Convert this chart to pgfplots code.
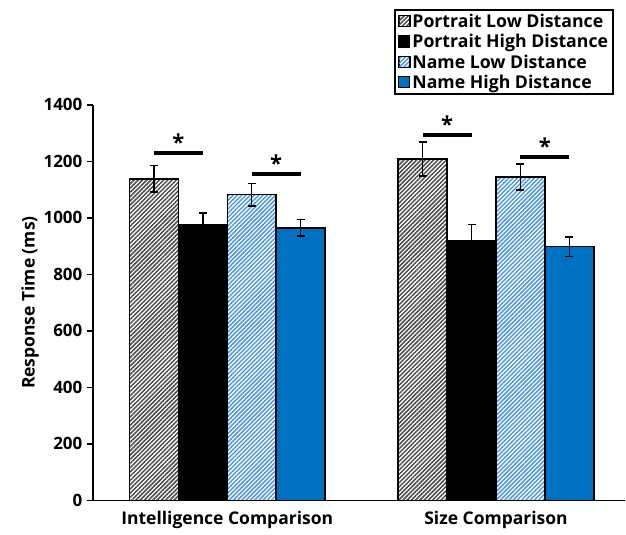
\documentclass[border=0pt]{standalone}
\usepackage{pgfplots}
\pgfplotsset{compat=1.18}
\usepackage{fontspec}
\setmainfont{Open Sans}
\usetikzlibrary{patterns.meta}
\definecolor{nblue}{RGB}{0,112,192}
\definecolor{lblue}{RGB}{80,150,220}
\definecolor{hgray}{RGB}{75,75,75}
\tikzset{
  pld/.style={draw=black, line width=1.5pt, preaction={fill=white}, pattern={Lines[angle=45,distance=3pt,line width=1.5pt]}, pattern color=hgray},
  phd/.style={draw=black, line width=1.5pt, fill=black},
  nld/.style={draw=black, line width=1.5pt, preaction={fill=white}, pattern={Lines[angle=45,distance=3pt,line width=1.5pt]}, pattern color=lblue},
  nhd/.style={draw=black, line width=1.5pt, fill=nblue},
}
\begin{document}
\begin{tikzpicture}
\begin{axis}[
  scale only axis,
  width=533pt, height=396pt,
  xmin=0, xmax=1.981,
  ymin=0, ymax=1400,
  ytick={0,200,...,1400},
  axis x line*=bottom,
  axis y line*=left,
  axis line style={line width=1.5pt, -},
  every tick/.style={line width=1.5pt, black},
  tick align=outside,
  major tick length=6pt,
  xtick={0.5,1.5},
  xticklabels={Intelligence Comparison, Size Comparison},
  x tick style={draw=none},
  extra x ticks={0,1},
  extra x tick labels={},
  extra x tick style={tick style={line width=1.5pt, black, draw=black}, major tick length=6pt},
  ybar=0pt,
  bar width=0.182,
  font=\bfseries\fontsize{17}{20}\selectfont,
  tick label style={font=\bfseries\fontsize{17}{20}\selectfont},
  x tick label style={font=\bfseries\fontsize{17.5}{21}\selectfont, yshift=-1pt},
  /pgf/number format/assume math mode=true,
  /pgf/number format/1000 sep={},
  yticklabel style={xshift=-1pt},
  ylabel={Response Time (ms)},
  ylabel style={at={(axis description cs:-0.118,0.5)}, anchor=center, font=\bfseries\fontsize{17.5}{20}\selectfont},
  legend style={at={(axis description cs:0.979,1.242)}, anchor=north east, draw=black, line width=2pt, font=\bfseries\fontsize{17.7}{21}\selectfont, row sep=1.5pt, inner xsep=3pt, inner ysep=2pt},
  legend cell align=left,
  legend image code/.code={\draw[#1, line width=1.2pt] (0pt,-5pt) rectangle (11pt,6pt);},
  error bars/error bar style={line width=1.5pt, black},
  error bars/error mark options={rotate=90, mark size=4pt, line width=1.5pt, black},
]
\addplot[pld, error bars/.cd, y dir=both, y explicit] coordinates {(0.5,1138) +- (0,47) (1.5,1209) +- (0,60)};
\addplot[phd, error bars/.cd, y dir=both, y explicit] coordinates {(0.5,975) +- (0,43) (1.5,919) +- (0,57)};
\addplot[nld, error bars/.cd, y dir=both, y explicit] coordinates {(0.5,1082) +- (0,40) (1.5,1145) +- (0,46)};
\addplot[nhd, error bars/.cd, y dir=both, y explicit] coordinates {(0.5,965) +- (0,30) (1.5,898) +- (0,35)};
\legend{Portrait Low Distance, Portrait High Distance, Name Low Distance, Name High Distance}
\addplot[sharp plot, black, line width=4pt, forget plot] coordinates {(0.227,1230) (0.409,1230)} node[pos=0.5, above=-3pt, font=\bfseries\fontsize{22}{24}\selectfont] {*};
\addplot[sharp plot, black, line width=4pt, forget plot] coordinates {(0.591,1156) (0.773,1156)} node[pos=0.5, above=-3pt, font=\bfseries\fontsize{22}{24}\selectfont] {*};
\addplot[sharp plot, black, line width=4pt, forget plot] coordinates {(1.227,1294) (1.409,1294)} node[pos=0.5, above=-3pt, font=\bfseries\fontsize{22}{24}\selectfont] {*};
\addplot[sharp plot, black, line width=4pt, forget plot] coordinates {(1.591,1216) (1.773,1216)} node[pos=0.5, above=-3pt, font=\bfseries\fontsize{22}{24}\selectfont] {*};
\end{axis}
\path (current axis.south west) ++(-93pt,-34pt) rectangle ++(626pt,535pt);
\end{tikzpicture}
\end{document}
